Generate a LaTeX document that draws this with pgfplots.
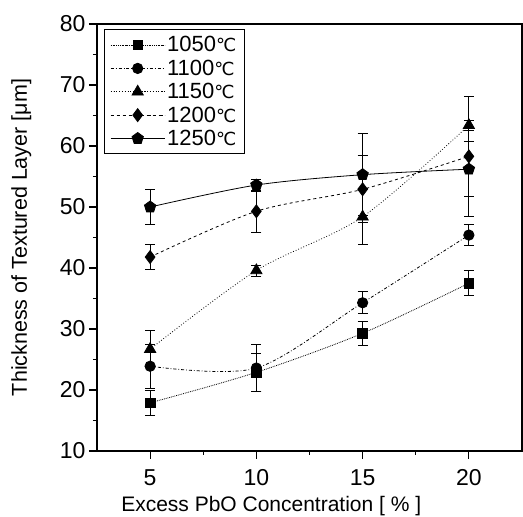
\documentclass[border=0pt]{standalone}
\usepackage{fontspec}
\setmainfont{Liberation Sans}
\newfontfamily\dejavu{DejaVu Sans}
\usepackage{pgfplots}
\pgfplotsset{compat=1.18}
\newcommand{\degc}{{\dejavu\fontsize{18}{18}\selectfont ℃}}

\pgfplotsset{
  ebar/.style={error bars/.cd, y dir=both, y explicit,
    error bar style={line width=0.8pt, solid, black},
    error mark options={rotate=90, mark size=5pt, line width=0.8pt, solid, black}},
}

\begin{document}
\begin{tikzpicture}
\useasboundingbox (-97pt,-66pt) rectangle (426pt,451pt);
\begin{axis}[
  width=425pt, height=427pt, scale only axis,
  xmin=2.5, xmax=22.5, ymin=10, ymax=80,
  xtick={5,10,15,20}, ytick={10,20,...,80},
  minor tick num=1,
  tick pos=left, tick align=outside,
  major tick length=8pt, minor tick length=4pt,
  axis line style={line width=1.5pt},
  every tick/.style={line width=1.2pt, black},
  /pgf/number format/assume math mode=true,
  tick label style={font=\fontsize{23}{27}\selectfont},
  xticklabel style={yshift=-7pt},
  label style={font=\fontsize{21.5}{25}\selectfont},
  xlabel={Excess PbO Concentration [ \% ]},
  ylabel={Thickness of Textured Layer [μm]},
  xlabel style={at={(axis description cs:0.41,-0.128)}, anchor=center, font=\fontsize{21}{25}\selectfont},
  ylabel style={at={(axis description cs:-0.178,0.5)}, anchor=center},
  legend style={at={(axis description cs:0.016,0.988)}, anchor=north west,
    draw=black, line width=1pt, font=\fontsize{22}{24}\selectfont,
    row sep=2.5pt, inner xsep=6pt, inner ysep=5pt},
  legend cell align=left,
  legend image code/.code={\draw[mark repeat=2,mark phase=2,#1]
    plot coordinates {(0pt,0pt) (27pt,0pt) (54pt,0pt)};},
  every axis plot/.append style={black, line width=0.8pt, smooth},
]
\addplot[densely dotted, mark=square*, mark size=4.8pt, mark options={solid, fill=black}, ebar]
coordinates {(5,17.9) +- (0,2.0) (10,22.9) +- (0,3.1) (15,29.3) +- (0,2.0) (20,37.5) +- (0,2.05)};
\addlegendentry{1050\degc}
\addplot[dash dot, mark=*, mark size=5.2pt, mark options={solid, fill=black}, ebar]
coordinates {(5,23.9) +- (0,3.6) (10,23.6) +- (0,3.8) (15,34.3) +- (0,1.8) (20,45.4) +- (0,1.75)};
\addlegendentry{1100\degc}
\addplot[dotted, mark=triangle*, mark size=6.5pt, mark options={solid, fill=black}, ebar]
coordinates {(5,26.7) +- (0,3.0) (10,39.6) +- (0,0.9) (15,48.4) +- (0,4.6) (20,63.4) +- (0,0.8)};
\addlegendentry{1150\degc}
\addplot[dashed, mark=diamond*, mark size=6.5pt, mark options={solid, fill=black}, ebar]
coordinates {(5,41.8) +- (0,2.1) (10,49.3) +- (0,3.4) (15,52.9) +- (0,5.5) (20,58.3) +- (0,9.8)};
\addlegendentry{1200\degc}
\addplot[solid, mark=pentagon*, mark size=6pt, mark options={solid, fill=black}, ebar]
coordinates {(5,50.0) +- (0,2.9) (10,53.6) +- (0,1.0) (15,55.3) +- (0,6.7) (20,56.2) +- (0,4.5)};
\addlegendentry{1250\degc}
\end{axis}
\end{tikzpicture}
\end{document}
